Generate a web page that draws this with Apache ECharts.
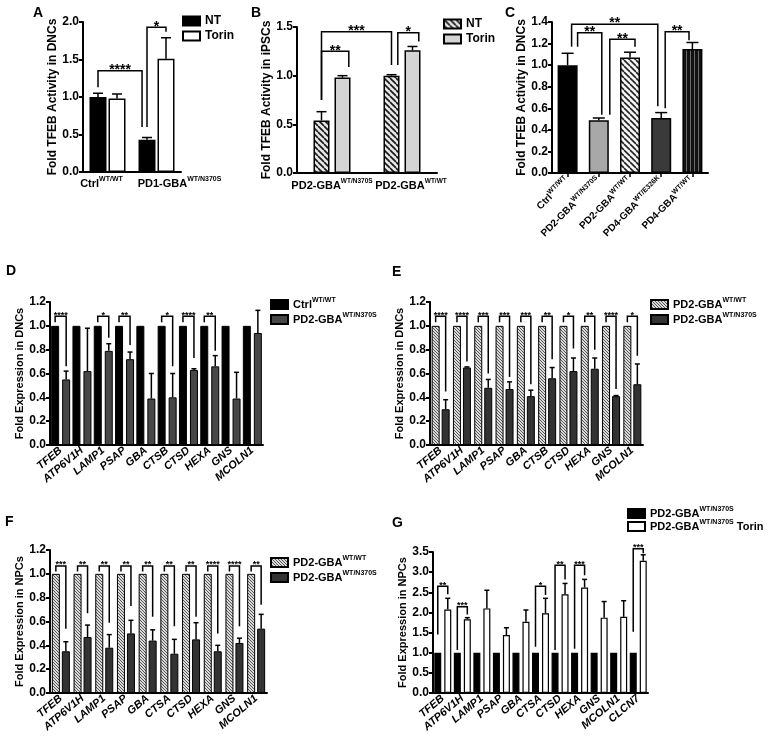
<!DOCTYPE html>
<html>
<head>
<meta charset="utf-8">
<script src="https://cdn.jsdelivr.net/npm/echarts@6/dist/echarts.min.js"></script>
<style>
html, body { margin: 0; padding: 0; background: #fff; }
#wrap { position: relative; width: 767px; height: 740px; }
.pane { position: absolute; left: 0; top: 0; width: 767px; height: 740px; }
</style>
</head>
<body>
<div id="wrap">
  <div class="pane" id="pA"></div>
  <div class="pane" id="pB"></div>
  <div class="pane" id="pC"></div>
  <div class="pane" id="pD"></div>
  <div class="pane" id="pE"></div>
  <div class="pane" id="pF"></div>
  <div class="pane" id="pG"></div>
</div>
<script>
var FONT = 'Liberation Sans, Arial, Helvetica, sans-serif';

// ---- panel A : TFEB activity in DNCs
var aCats = ['Ctrl^WT/WT', 'PD1-GBA^WT/N370S'];
var aNT = [1.00, 0.43];
var aNTErr = [0.05, 0.03];
var aTorin = [0.98, 1.51];
var aTorinErr = [0.06, 0.28];
// [cat1, bar1, cat2, bar2, top, leftEnd, rightEnd, stars]
var aSig = [
    [0, 0, 1, -0.26, 1.35, 1.13, 0.60, '****'],
    [1, 0, 1, 1, 1.93, 0.60, 1.87, '*']
];

// ---- panel B : TFEB activity in iPSCs
var bCats = ['PD2-GBA^WT/N370S', 'PD2-GBA^WT/WT'];
var bNT = [0.54, 1.00];
var bNTErr = [0.09, 0.01];
var bTorin = [0.98, 1.26];
var bTorinErr = [0.02, 0.04];
var bSig = [
    [0, 0, 1, 0, 1.45, 0.75, 1.11, '***'],
    [0, 0, 0, 1.3, 1.25, 0.75, 1.09, '**'],
    [1, 0.3, 1, 1.3, 1.44, 1.11, 1.35, '*']
];

// ---- panel C : TFEB activity in DNCs, lines
var cCats = ['Ctrl^WT/WT', 'PD2-GBA^WT/N370S', 'PD2-GBA^WT/WT', 'PD4-GBA^WT/E326K', 'PD4-GBA^WT/WT'];
var cVals = [1.00, 0.49, 1.07, 0.51, 1.15];
var cErr = [0.11, 0.02, 0.05, 0.05, 0.06];
var cSig = [
    [0, 0.2, 3, -0.17, 1.38, 1.17, 0.62, '**'],
    [0, 0.5, 1, 0.15, 1.30, 1.17, 0.54, '**'],
    [1, 0.55, 2, 0.25, 1.24, 0.54, 1.17, '**'],
    [3, 0.2, 4, -0.17, 1.31, 0.60, 1.23, '**']
];

// ---- panel D : lysosomal genes in DNCs, Ctrl vs PD2
var dCats = ['TFEB', 'ATP6V1H', 'LAMP1', 'PSAP', 'GBA', 'CTSB', 'CTSD', 'HEXA', 'GNS', 'MCOLN1'];
var dCtrl = [1, 1, 1, 1, 1, 1, 1, 1, 1, 1];
var dPD2 = [0.55, 0.62, 0.79, 0.72, 0.39, 0.40, 0.63, 0.66, 0.39, 0.94];
var dPD2Err = [0.07, 0.36, 0.06, 0.06, 0.21, 0.20, 0.01, 0.09, 0.22, 0.19];
// [cat, top, leftEnd, rightEnd, stars]
var dSig = [[0, 1.08, 1.03, 0.66, '****'], [2, 1.08, 1.03, 0.90, '*'], [3, 1.08, 1.03, 0.84, '**'],
    [5, 1.08, 1.03, 0.66, '*'], [6, 1.08, 1.03, 0.73, '****'], [7, 1.08, 1.03, 0.79, '**']];

// ---- panel E : lysosomal genes in DNCs, isogenic
var eCats = ['TFEB', 'ATP6V1H', 'LAMP1', 'PSAP', 'GBA', 'CTSB', 'CTSD', 'HEXA', 'GNS', 'MCOLN1'];
var eWT = [1, 1, 1, 1, 1, 1, 1, 1, 1, 1];
var eMut = [0.30, 0.65, 0.48, 0.47, 0.41, 0.56, 0.62, 0.64, 0.41, 0.51];
var eMutErr = [0.08, 0.005, 0.07, 0.06, 0.05, 0.09, 0.11, 0.09, 0.005, 0.17];
var eStars = ['****', '****', '***', '***', '***', '**', '*', '**', '****', '*'];
var eRight = [0.45, 0.70, 0.60, 0.57, 0.51, 0.72, 0.81, 0.80, 0.47, 0.75];

// ---- panel F : lysosomal genes in NPCs
var fCats = ['TFEB', 'ATP6V1H', 'LAMP1', 'PSAP', 'GBA', 'CTSA', 'CTSD', 'HEXA', 'GNS', 'MCOLN1'];
var fWT = [1, 1, 1, 1, 1, 1, 1, 1, 1, 1];
var fMut = [0.35, 0.47, 0.38, 0.50, 0.44, 0.33, 0.45, 0.35, 0.42, 0.54];
var fMutErr = [0.08, 0.10, 0.11, 0.11, 0.09, 0.12, 0.14, 0.05, 0.04, 0.12];
var fStars = ['***', '**', '**', '**', '**', '**', '**', '****', '****', '**'];
var fRight = [0.54, 0.67, 0.59, 0.73, 0.64, 0.56, 0.64, 0.50, 0.56, 0.74];

// ---- panel G : NPCs with Torin
var gCats = ['TFEB', 'ATP6V1H', 'LAMP1', 'PSAP', 'GBA', 'CTSA', 'CTSD', 'HEXA', 'GNS', 'MCOLN1', 'CLCN7'];
var gNT = [1, 1, 1, 1, 1, 1, 1, 1, 1, 1, 1];
var gTorin = [2.07, 1.83, 2.10, 1.44, 1.77, 1.98, 2.45, 2.62, 1.87, 1.89, 3.28];
var gTorinErr = [0.28, 0.04, 0.45, 0.18, 0.29, 0.37, 0.27, 0.20, 0.40, 0.40, 0.15];
var gSig = [[0, 2.65, 1.45, 2.45, '**'], [1, 2.14, 1.07, 1.95, '***'], [5, 2.65, 1.15, 2.43, '*'],
    [6, 3.17, 1.07, 2.82, '**'], [7, 3.17, 1.10, 2.92, '***'], [10, 3.58, 1.52, 3.47, '***']];

function pairSig(list) {
    return list.map(function (s) { return [s[0], 0, s[0], 1, s[1], s[2], s[3], s[4]]; });
}
function rowSig(stars, right, top, left) {
    return stars.map(function (t, i) { return [i, 0, i, 1, top, left, right[i], t]; });
}

// hatch fills
function hatch(bg, fg, size, lw) {
    var c = document.createElement('canvas');
    c.width = c.height = size;
    var g = c.getContext('2d');
    g.fillStyle = bg; g.fillRect(0, 0, size, size);
    g.strokeStyle = fg; g.lineWidth = lw;
    for (var k = -1; k <= 1; k++) {
        g.beginPath(); g.moveTo(k * size, 0); g.lineTo(k * size + size, size); g.stroke();
    }
    return { image: c, repeat: 'repeat' };
}
function vlines(bg, fg, size) {
    var c = document.createElement('canvas');
    c.width = size; c.height = size;
    var g = c.getContext('2d');
    g.fillStyle = bg; g.fillRect(0, 0, size, size);
    g.fillStyle = fg; g.fillRect(Math.floor(size / 2), 0, 1, size);
    return { image: c, repeat: 'repeat' };
}

function richText(str) {
    var p = str.split('^');
    var out = '{b|' + p[0] + '}';
    if (p[1]) out += '{s|' + p[1] + '}';
    if (p[2]) out += '{b| ' + p[2] + '}';
    return out;
}
function richStyle(size, sup, italic) {
    return {
        b: { fontSize: size, fontWeight: 'bold', fontStyle: italic ? 'italic' : 'normal', fontFamily: FONT, color: '#000', lineHeight: size + 4 },
        s: { fontSize: sup, fontWeight: 'bold', fontFamily: FONT, color: '#000', verticalAlign: 'top' }
    };
}

function panel(id, o) {
    var n = o.series.length;
    var pitch = o.barWidth + o.gap;
    function off(s) { return (s - (n - 1) / 2) * pitch; }
    var series = [];
    o.series.forEach(function (s, k) {
        series.push({
            type: 'bar', name: s.name, barWidth: o.barWidth,
            barGap: (o.gap / o.barWidth * 100) + '%',
            data: s.data.map(function (v, i) {
                return s.colors ? { value: v, itemStyle: { color: s.colors[i] } } : v;
            }),
            itemStyle: { color: s.color, borderColor: '#000', borderWidth: o.border },
            z: 2
        });
        var xo = off(k);
        series.push({
            type: 'custom', z: 4, silent: true,
            data: s.data.map(function (v, i) { return [i, v, v + s.err[i]]; }),
            renderItem: function (p, api) {
                if (api.value(2) - api.value(1) < 0.004) return;
                var a = api.coord([api.value(0), api.value(1)]);
                var b = api.coord([api.value(0), api.value(2)]);
                var x = a[0] + xo, cw = o.cap / 2;
                return {
                    type: 'group', children: [
                        { type: 'line', shape: { x1: x, y1: a[1], x2: x, y2: b[1] }, style: { stroke: '#000', lineWidth: 1.5 } },
                        { type: 'line', shape: { x1: x - cw, y1: b[1], x2: x + cw, y2: b[1] }, style: { stroke: '#000', lineWidth: 1.5 } }
                    ]
                };
            }
        });
    });
    series.push({
        type: 'custom', z: 5, silent: true,
        data: o.sig.map(function (s) { return [s[0], s[4]]; }),
        renderItem: function (p, api) {
            var s = o.sig[p.dataIndex];
            var x1 = api.coord([s[0], 0])[0] + off(s[1]);
            var x2 = api.coord([s[2], 0])[0] + off(s[3]);
            var yt = api.coord([0, s[4]])[1];
            var y1 = api.coord([0, s[5]])[1];
            var y2 = api.coord([0, s[6]])[1];
            return {
                type: 'group', children: [
                    { type: 'polyline', shape: { points: [[x1, y1], [x1, yt], [x2, yt], [x2, y2]] },
                      style: { stroke: '#000', lineWidth: 1.5, fill: null } },
                    { type: 'text', style: { text: s[7], x: (x1 + x2) / 2, y: yt + o.star * 0.6 - 2,
                      textAlign: 'center', textVerticalAlign: 'bottom',
                      font: 'bold ' + o.star + 'px ' + FONT, fill: '#000' } }
                ]
            };
        }
    });

    var cats = o.cats.map(function (c, i) {
        return o.labelPad && o.labelPad[i] ? { value: c, textStyle: { padding: o.labelPad[i] } } : c;
    });

    var option = {
        animation: false,
        title: {
            text: o.letter, left: o.letterPos[0], top: o.letterPos[1], padding: 0,
            textStyle: { fontSize: 14, fontWeight: 'bold', fontFamily: FONT, color: '#000' }
        },
        grid: { left: o.grid[0], top: o.grid[1], width: o.grid[2], height: o.grid[3], containLabel: false },
        xAxis: {
            type: 'category', data: cats,
            axisLine: { lineStyle: { color: '#000', width: 2 } },
            axisTick: { show: o.xTick, alignWithLabel: true, length: 4, lineStyle: { color: '#000', width: 1.5 } },
            axisLabel: {
                interval: 0, rotate: o.rotate, margin: o.labelMargin,
                formatter: richText, rich: richStyle(o.xFont[0], o.xFont[1], o.italic)
            }
        },
        yAxis: {
            type: 'value', min: 0, max: o.yMax, interval: o.yInt,
            name: o.yName, nameLocation: 'middle', nameGap: o.nameGap,
            nameTextStyle: { fontSize: o.nameFont, fontWeight: 'bold', fontFamily: FONT, color: '#000' },
            axisLine: { show: true, lineStyle: { color: '#000', width: 2 } },
            axisTick: { show: true, length: 4, lineStyle: { color: '#000', width: 2 } },
            axisLabel: {
                fontSize: o.tickFont, fontWeight: 'bold', fontFamily: FONT, color: '#000', margin: 4,
                formatter: function (v) { return v.toFixed(1); }
            },
            splitLine: { show: false }
        },
        series: series
    };
    if (o.legend) {
        option.legend = {
            orient: 'vertical', left: o.legend[0], top: o.legend[1], itemGap: o.legend[2],
            itemWidth: 17, itemHeight: 9, icon: 'rect', padding: 0,
            selectedMode: false,
            formatter: richText,
            textStyle: { rich: richStyle(o.legend[3], o.legend[4], false) }
        };
    }
    echarts.init(document.getElementById(id)).setOption(option);
}

var hatchB = hatch('#e6e6e6', '#1a1a1a', 6, 1.7);
var hatchC = hatch('#f4f4f4', '#222', 6, 1.6);
var hatchFine = hatch('#d9d9d9', '#4a4a4a', 3, 0.9);

panel('pA', {
    letter: 'A', letterPos: [33, 6], grid: [83, 22, 98, 150],
    cats: aCats, labelPad: [[0, 12, 0, 0], [0, 0, 0, 46]],
    xTick: false, rotate: 0, labelMargin: 4, xFont: [11, 7], italic: false,
    yMax: 2.0, yInt: 0.5, yName: 'Fold TFEB Activity in DNCs', nameGap: 21, nameFont: 12, tickFont: 12,
    barWidth: 17, gap: 2, border: 1.5, cap: 10, star: 14, sig: aSig,
    series: [
        { name: 'NT', data: aNT, err: aNTErr, color: '#000' },
        { name: 'Torin', data: aTorin, err: aTorinErr, color: '#fff' }
    ],
    legend: [182, 15, 3, 12, 8]
});

panel('pB', {
    letter: 'B', letterPos: [251, 6], grid: [297, 27, 140, 146],
    cats: bCats, labelPad: [null, [0, 0, 0, 18]],
    xTick: false, rotate: 0, labelMargin: 5, xFont: [11, 6.5], italic: false,
    yMax: 1.5, yInt: 0.5, yName: 'Fold TFEB Activity in iPSCs', nameGap: 24, nameFont: 12, tickFont: 12,
    barWidth: 16, gap: 5, border: 1.5, cap: 10, star: 14, sig: bSig,
    series: [
        { name: 'NT', data: bNT, err: bNTErr, color: hatchB },
        { name: 'Torin', data: bTorin, err: bTorinErr, color: '#d4d4d4' }
    ],
    legend: [443, 18, 3, 12, 8]
});

panel('pC', {
    letter: 'C', letterPos: [505, 6], grid: [552, 22, 156, 151],
    cats: cCats, xTick: true, rotate: 45, labelMargin: 6, xFont: [10, 7], italic: false,
    yMax: 1.4, yInt: 0.2, yName: 'Fold TFEB Activity in DNCs', nameGap: 18, nameFont: 12, tickFont: 12,
    barWidth: 20, gap: 0, border: 1.5, cap: 12, star: 14, sig: cSig,
    series: [
        { name: 'lines', data: cVals, err: cErr, color: '#000',
          colors: ['#000', '#a8a8a8', hatchC, '#3a3a3a', vlines('#111', '#6a6a6a', 4)] }
    ]
});

panel('pD', {
    letter: 'D', letterPos: [6, 264], grid: [50, 302, 213, 143],
    cats: dCats, xTick: false, rotate: 40, labelMargin: 4, xFont: [11, 7], italic: true,
    yMax: 1.2, yInt: 0.2, yName: 'Fold Expression in DNCs', nameGap: 20, nameFont: 11, tickFont: 12,
    barWidth: 8, gap: 3, border: 1, cap: 5, star: 9, sig: pairSig(dSig),
    series: [
        { name: 'Ctrl^WT/WT', data: dCtrl, err: dCtrl.map(function () { return 0; }), color: '#000' },
        { name: 'PD2-GBA^WT/N370S', data: dPD2, err: dPD2Err, color: '#474747' }
    ],
    legend: [270, 297, 2, 11, 7]
});

panel('pE', {
    letter: 'E', letterPos: [392, 265], grid: [430, 302, 213, 143],
    cats: eCats, xTick: false, rotate: 40, labelMargin: 4, xFont: [11, 7], italic: true,
    yMax: 1.2, yInt: 0.2, yName: 'Fold Expression in DNCs', nameGap: 20, nameFont: 11, tickFont: 12,
    barWidth: 8, gap: 2, border: 1, cap: 5, star: 9, sig: rowSig(eStars, eRight, 1.08, 1.03),
    series: [
        { name: 'PD2-GBA^WT/WT', data: eWT, err: eWT.map(function () { return 0; }), color: hatchFine },
        { name: 'PD2-GBA^WT/N370S', data: eMut, err: eMutErr, color: '#333' }
    ],
    legend: [650, 297, 2, 11, 7]
});

panel('pF', {
    letter: 'F', letterPos: [5, 515], grid: [50, 550, 217, 143],
    cats: fCats, xTick: false, rotate: 40, labelMargin: 4, xFont: [11, 7], italic: true,
    yMax: 1.2, yInt: 0.2, yName: 'Fold Expression in NPCs', nameGap: 22, nameFont: 11, tickFont: 12,
    barWidth: 8, gap: 2, border: 1, cap: 5, star: 9, sig: rowSig(fStars, fRight, 1.065, 1.02),
    series: [
        { name: 'PD2-GBA^WT/WT', data: fWT, err: fWT.map(function () { return 0; }), color: hatchFine },
        { name: 'PD2-GBA^WT/N370S', data: fMut, err: fMutErr, color: '#333' }
    ],
    legend: [270, 555, 2, 11, 7]
});

panel('pG', {
    letter: 'G', letterPos: [392, 516], grid: [433, 552, 215, 141],
    cats: gCats, xTick: false, rotate: 40, labelMargin: 4, xFont: [11, 7], italic: true,
    yMax: 3.5, yInt: 0.5, yName: 'Fold Expression in NPCs', nameGap: 21, nameFont: 11, tickFont: 12,
    barWidth: 7, gap: 3, border: 1.2, cap: 5, star: 9, sig: pairSig(gSig),
    series: [
        { name: 'PD2-GBA^WT/N370S', data: gNT, err: gNT.map(function () { return 0; }), color: '#000' },
        { name: 'PD2-GBA^WT/N370S^Torin', data: gTorin, err: gTorinErr, color: '#fff' }
    ],
    legend: [627, 506, 0, 11, 7]
});
</script>
</body>
</html>
